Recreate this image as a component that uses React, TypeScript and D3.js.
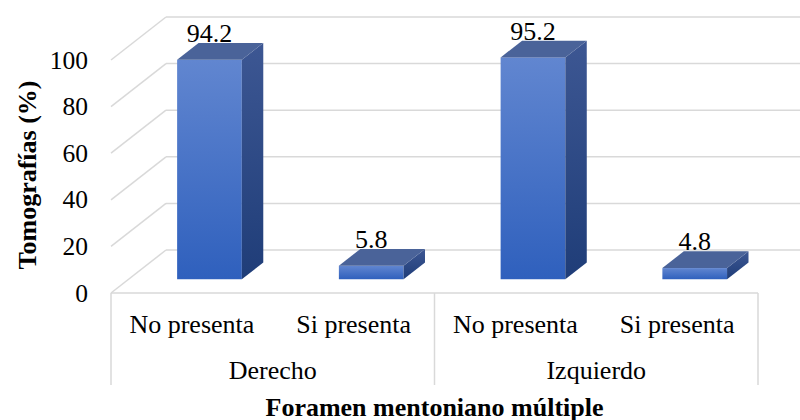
import React from "react";
import * as d3 from "d3";

const groups = ["Derecho", "Izquierdo"];
const subcats = ["No presenta", "Si presenta"];
const values = [94.2, 5.8, 95.2, 4.8];
const yTicks = [0, 20, 40, 60, 80, 100];
const yTitle = "Tomografías (%)";
const xTitle = "Foramen mentoniano múltiple";

const W = 800;
const H = 420;
const FONT = "Liberation Serif";

export default function App() {
  const cats = groups.flatMap((g) => subcats.map((s) => `${g}|${s}`));
  const x0 = 111;
  const x1 = 758;
  const x = d3.scaleBand<string>().domain(cats).range([x0, x1]).paddingInner(0.6).paddingOuter(0.3);
  const step = x.step();
  const y = d3.scaleLinear().domain([0, 100]).range([293, 60]);
  const depthX = 55;
  const depthY = -43;
  const d0 = 0.32;
  const d1 = 0.71;
  const bw = x.bandwidth();
  const grid = "#d9d9d9";
  const reg = { fontFamily: FONT, fontWeight: 500 };
  const bold = { fontFamily: FONT, fontWeight: 700 };

  const groupW = step * subcats.length;

  return (
    <svg width={W} height={H} style={{ position: "absolute", left: 0, top: 0, background: "#fff" }}>
      <defs>
        <linearGradient id="front" x1="0" y1="0" x2="0" y2="1">
          <stop offset="0" stopColor="#6186d0" />
          <stop offset="1" stopColor="#2f60bd" />
        </linearGradient>
        <linearGradient id="side" x1="0" y1="0" x2="0" y2="1">
          <stop offset="0" stopColor="#3d5793" />
          <stop offset="1" stopColor="#1f3d78" />
        </linearGradient>
      </defs>
      {yTicks.map((t) => (
        <g key={t}>
          <line x1={x0 + depthX} x2={W} y1={y(t) + depthY} y2={y(t) + depthY} stroke={grid} strokeWidth={1.5} />
          <line x1={x0} y1={y(t)} x2={x0 + depthX} y2={y(t) + depthY} stroke={grid} strokeWidth={1.5} />
          <text x={88} y={y(t)} textAnchor="end" dominantBaseline="central" fontSize={25.5} fill="#000" style={reg}>
            {t}
          </text>
        </g>
      ))}
      <line x1={x0} x2={x1} y1={y(0)} y2={y(0)} stroke={grid} strokeWidth={1.5} />
      {d3.range(groups.length + 1).map((i) => (
        <line key={i} x1={x0 + i * groupW} x2={x0 + i * groupW} y1={y(0)} y2={385} stroke={grid} strokeWidth={1.5} />
      ))}
      {cats.map((c, i) => {
        const v = values[i];
        const fx = (x(c) as number) + d0 * depthX;
        const fyBase = y(0) + d0 * depthY;
        const fyTop = y(v) + d0 * depthY;
        const ddx = (d1 - d0) * depthX;
        const ddy = (d1 - d0) * depthY;
        const side = `M${fx + bw},${fyTop} L${fx + bw + ddx},${fyTop + ddy} L${fx + bw + ddx},${fyBase + ddy} L${fx + bw},${fyBase} Z`;
        const top = `M${fx},${fyTop} L${fx + ddx},${fyTop + ddy} L${fx + bw + ddx},${fyTop + ddy} L${fx + bw},${fyTop} Z`;
        return (
          <g key={c}>
            <rect x={fx} y={fyTop} width={bw} height={fyBase - fyTop} fill="url(#front)" />
            <path d={side} fill="url(#side)" />
            <path d={top} fill="#4a6399" />
            <text x={fx + bw / 2} y={fyTop + ddy - 1} textAnchor="middle" fontSize={26} fill="#000" style={reg}>
              {v.toFixed(1)}
            </text>
          </g>
        );
      })}
      {cats.map((c, i) => (
        <text key={c} x={x0 + step * (i + 0.5)} y={324} textAnchor="middle" dominantBaseline="central" fontSize={26} fill="#000" style={reg}>
          {c.split("|")[1]}
        </text>
      ))}
      {groups.map((g, i) => (
        <text key={g} x={x0 + groupW * (i + 0.5)} y={370} textAnchor="middle" dominantBaseline="central" fontSize={26} fill="#000" style={reg}>
          {g}
        </text>
      ))}
      <text x={(x0 + x1) / 2} y={407} textAnchor="middle" dominantBaseline="central" fontSize={26} fill="#000" style={bold}>
        {xTitle}
      </text>
      <text transform="translate(27,175) rotate(-90)" textAnchor="middle" dominantBaseline="central" fontSize={26} fill="#000" style={bold}>
        {yTitle}
      </text>
    </svg>
  );
}
